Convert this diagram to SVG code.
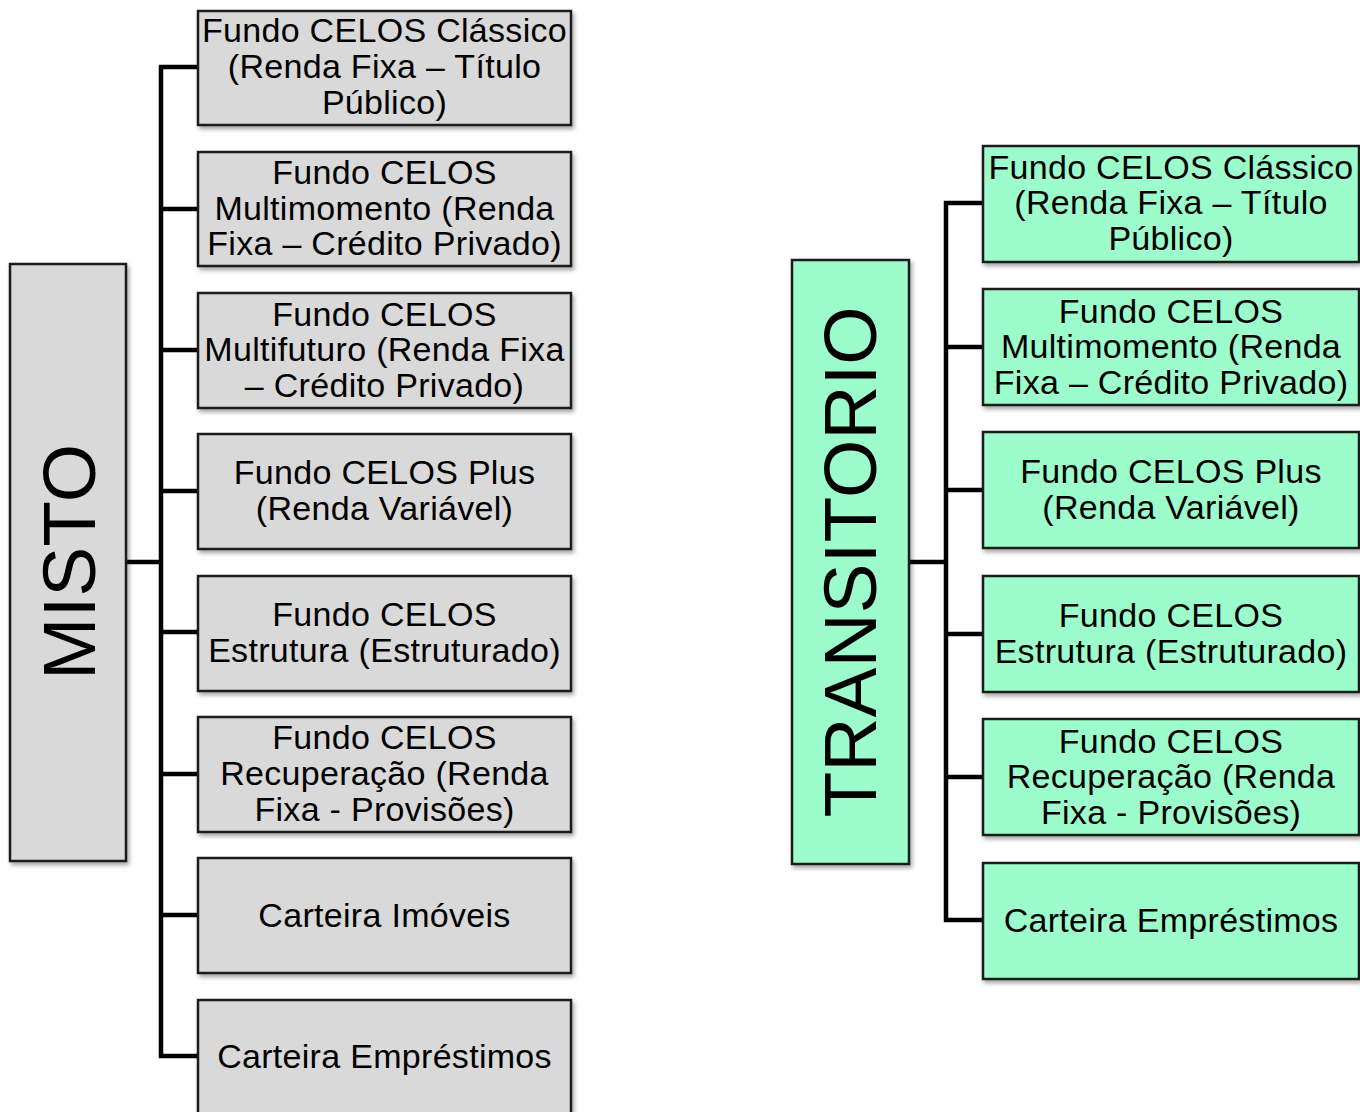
<svg xmlns="http://www.w3.org/2000/svg" width="1360" height="1112" viewBox="0 0 1360 1112">
<defs>
<filter id="sh" x="-10%" y="-10%" width="130%" height="130%">
<feDropShadow dx="2" dy="3" stdDeviation="2" flood-color="#000" flood-opacity="0.35"/>
</filter>
<style>
.g{fill:#d9d9d9;stroke:#1a1a1a;stroke-width:2.5;filter:url(#sh)}
.m{fill:#9cfccb;stroke:#1a1a1a;stroke-width:2.5;filter:url(#sh)}
.t{font-family:"Liberation Sans",Arial,sans-serif;font-size:34px;letter-spacing:0.3px;fill:#000;text-anchor:middle}
.r{font-family:"Liberation Sans",Arial,sans-serif;font-size:75px;fill:#000;text-anchor:middle}
.c{fill:none;stroke:#000;stroke-width:4.5}
</style>
</defs>
<rect width="1360" height="1112" fill="#fff"/>
<g id="connectors">
<path class="c" d="M126 562H161M198 67H161V1056H198M161 209H198M161 350H198M161 491H198M161 632H198M161 774H198M161 915H198"/>
<path class="c" d="M909 562H946M983 203H946V920H983M946 347H983M946 490H983M946 634H983M946 777H983"/>
</g>
<g id="misto"><rect class="g" x="10" y="264" width="116" height="597"/><text class="r" transform="translate(95,562) rotate(-90)">MISTO</text></g>
<g id="m1"><rect class="g" x="198" y="11" width="373" height="114"/><text class="t" x="384.5" y="42">Fundo CELOS Clássico</text><text class="t" x="384.5" y="78">(Renda Fixa – Título</text><text class="t" x="384.5" y="114">Público)</text></g>
<g id="m2"><rect class="g" x="198" y="152" width="373" height="114"/><text class="t" x="384.5" y="184">Fundo CELOS</text><text class="t" x="384.5" y="220">Multimomento (Renda</text><text class="t" x="384.5" y="255">Fixa – Crédito Privado)</text></g>
<g id="m3"><rect class="g" x="198" y="293" width="373" height="115"/><text class="t" x="384.5" y="326">Fundo CELOS</text><text class="t" x="384.5" y="361">Multifuturo (Renda Fixa</text><text class="t" x="384.5" y="397">– Crédito Privado)</text></g>
<g id="m4"><rect class="g" x="198" y="434" width="373" height="115"/><text class="t" x="384.5" y="484">Fundo CELOS Plus</text><text class="t" x="384.5" y="520">(Renda Variável)</text></g>
<g id="m5"><rect class="g" x="198" y="576" width="373" height="115"/><text class="t" x="384.5" y="626">Fundo CELOS</text><text class="t" x="384.5" y="662">Estrutura (Estruturado)</text></g>
<g id="m6"><rect class="g" x="198" y="717" width="373" height="115"/><text class="t" x="384.5" y="749">Fundo CELOS</text><text class="t" x="384.5" y="785">Recuperação (Renda</text><text class="t" x="384.5" y="821">Fixa - Provisões)</text></g>
<g id="m7"><rect class="g" x="198" y="858" width="373" height="115"/><text class="t" x="384.5" y="927">Carteira Imóveis</text></g>
<g id="m8"><rect class="g" x="198" y="1000" width="373" height="120"/><text class="t" x="384.5" y="1068">Carteira Empréstimos</text></g>
<g id="transitorio"><rect class="m" x="792" y="260" width="117" height="604"/><text class="r" transform="translate(876,562) rotate(-90)">TRANSITORIO</text></g>
<g id="t1"><rect class="m" x="983" y="146" width="376" height="116"/><text class="t" x="1171" y="179">Fundo CELOS Clássico</text><text class="t" x="1171" y="214">(Renda Fixa – Título</text><text class="t" x="1171" y="250">Público)</text></g>
<g id="t2"><rect class="m" x="983" y="289" width="376" height="116"/><text class="t" x="1171" y="323">Fundo CELOS</text><text class="t" x="1171" y="358">Multimomento (Renda</text><text class="t" x="1171" y="394">Fixa – Crédito Privado)</text></g>
<g id="t3"><rect class="m" x="983" y="432" width="376" height="116"/><text class="t" x="1171" y="483">Fundo CELOS Plus</text><text class="t" x="1171" y="519">(Renda Variável)</text></g>
<g id="t4"><rect class="m" x="983" y="576" width="376" height="116"/><text class="t" x="1171" y="627">Fundo CELOS</text><text class="t" x="1171" y="663">Estrutura (Estruturado)</text></g>
<g id="t5"><rect class="m" x="983" y="719" width="376" height="116"/><text class="t" x="1171" y="753">Fundo CELOS</text><text class="t" x="1171" y="788">Recuperação (Renda</text><text class="t" x="1171" y="824">Fixa - Provisões)</text></g>
<g id="t6"><rect class="m" x="983" y="863" width="376" height="116"/><text class="t" x="1171" y="932">Carteira Empréstimos</text></g>
</svg>
